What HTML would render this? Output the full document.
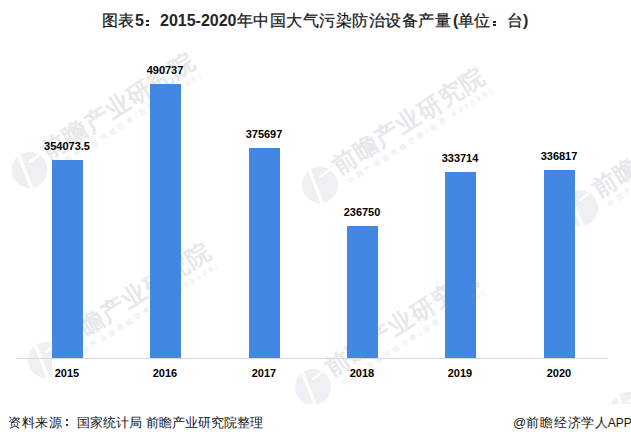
<!DOCTYPE html>
<html><head><meta charset="utf-8">
<style>
html,body{margin:0;padding:0;background:#fff;}
body{width:631px;height:443px;position:relative;overflow:hidden;font-family:"Liberation Sans",sans-serif;}
.t{position:absolute;white-space:nowrap;}
.wm{position:absolute;left:0;top:0;}
.title{left:102px;top:11px;font-size:16px;font-weight:bold;color:#262626;}
.title .c{letter-spacing:0.5px;}
.title .k{font-weight:normal;-webkit-text-stroke:0.25px #1a1a1a;color:#1a1a1a;}
.dot{position:absolute;width:3px;height:2px;background:#262626;}
.bar{position:absolute;background:#4287e2;width:31px;}
.axis{position:absolute;left:17px;top:358px;width:591px;height:1px;background:#d9d9d9;}
.val{position:absolute;font-size:11px;font-weight:bold;color:#000;text-align:center;width:80px;}
.yr{position:absolute;font-size:11px;font-weight:bold;color:#000;text-align:center;width:80px;top:367px;}
.src{left:8px;top:414px;font-size:13px;color:#141414;}
.src .s1{letter-spacing:0.7px;}
.fdot{position:absolute;width:2px;height:2px;background:#333;}
.app{left:513px;top:414px;font-size:13px;color:#141414;}
</style></head><body>


<svg class="wm" width="631" height="443" viewBox="0 0 631 443">
<defs>
<g id="w">
<circle cx="0" cy="0" r="18" fill="#eff0f3"/>
<line x1="-11" y1="-16" x2="2.5" y2="19" stroke="#fff" stroke-width="3.2"/>
<line x1="-0.5" y1="-7.5" x2="12" y2="-17" stroke="#fff" stroke-width="2.2"/>
<g transform="rotate(-32.5)" font-family="Liberation Sans, sans-serif" fill="#e6e8ec">
<text x="21.2" y="1.5" font-size="24" font-weight="bold" textLength="175" lengthAdjust="spacing">前瞻产业研究院</text>
<text x="25" y="14.5" font-size="7" textLength="170" lengthAdjust="spacing">中国产业咨询领导者(股票 839599)</text>
</g>
</g>
<clipPath id="cp"><rect x="0" y="0" width="631" height="404"/></clipPath>
</defs>
<g clip-path="url(#cp)">
<use href="#w" x="29.5" y="170"/>
<use href="#w" x="320" y="185"/>
<use href="#w" x="580" y="208"/>
<use href="#w" x="46" y="360"/>
<use href="#w" x="313" y="387"/>
<use href="#w" x="628" y="410"/>
</g>
<rect x="52" y="359" width="31" height="30" fill="#fff"/>
</svg>
<div class="t title" style="left:102px"><span class="k">图表</span><span style="margin-left:1px">5</span></div>
<div class="dot" style="left:146px;top:20px"></div><div class="dot" style="left:146px;top:24px"></div>
<div class="t title" style="left:160px">2015-2020<span class="c k">年中国大气污染防治设备产量</span></div>
<div class="t title" style="left:453px">(<span class="k">单</span><span class="c k">位</span></div>
<div class="dot" style="left:493px;top:21px"></div><div class="dot" style="left:493px;top:24px"></div>
<div class="t title" style="left:507px"><span class="k">台</span>)</div>

<div class="bar" style="left:52px;top:160px;height:198px"></div>
<div class="bar" style="left:150px;top:84px;height:274px"></div>
<div class="bar" style="left:249px;top:148px;height:210px"></div>
<div class="bar" style="left:347px;top:226px;height:132px"></div>
<div class="bar" style="left:445px;top:172px;height:186px"></div>
<div class="bar" style="left:544px;top:170px;height:188px"></div>
<div class="axis"></div>

<div class="val" style="left:27px;top:140px">354073.5</div>
<div class="val" style="left:125px;top:64px">490737</div>
<div class="val" style="left:224px;top:128px">375697</div>
<div class="val" style="left:322px;top:206px">236750</div>
<div class="val" style="left:420px;top:152px">333714</div>
<div class="val" style="left:519px;top:150px">336817</div>

<div class="yr" style="left:27px">2015</div>
<div class="yr" style="left:125px">2016</div>
<div class="yr" style="left:224px">2017</div>
<div class="yr" style="left:322px">2018</div>
<div class="yr" style="left:420px">2019</div>
<div class="yr" style="left:519px">2020</div>

<div class="t src"><span class="s1">资料来源</span></div>
<div class="fdot" style="left:66px;top:419px"></div><div class="fdot" style="left:66px;top:424px"></div>
<div class="t src" style="left:76.6px;word-spacing:1px">国家统计局 前瞻产业研究院整理</div>
<div class="t app">@<span style="letter-spacing:0.8px">前瞻经济学</span>人<span style="font-size:12px;margin-left:-0.5px">APP</span></div>

</body></html>
